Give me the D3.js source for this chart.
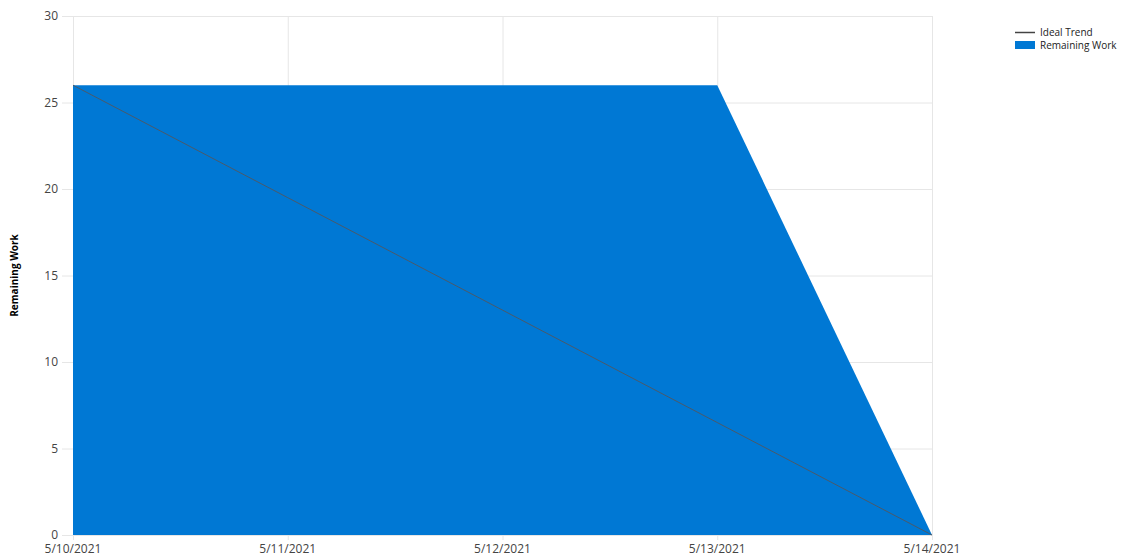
<!DOCTYPE html>
<html>
<head>
<meta charset="utf-8">
<script src="https://cdn.jsdelivr.net/npm/d3@7"></script>
<style>
  body { margin: 0; background: #fff; }
  svg { display: block; font-family: "Open Sans", "Noto Sans", sans-serif; }
</style>
</head>
<body>
<div id="chart"></div>
<script>
// data
const dates = ['5/10/2021', '5/11/2021', '5/12/2021', '5/13/2021', '5/14/2021'];
const remainingWork = [26, 26, 26, 26, 0];
const idealTrend = [26, 19.5, 13, 6.5, 0];
const yTicks = [0, 5, 10, 15, 20, 25, 30];

const width = 1123, height = 559;
const margin = { top: 16, right: 191, bottom: 24, left: 73 };

const svg = d3.select('#chart').append('svg')
  .attr('width', width)
  .attr('height', height);

const x = d3.scalePoint()
  .domain(dates)
  .range([margin.left, width - margin.right]);

const y = d3.scaleLinear()
  .domain([0, 30])
  .range([height - margin.bottom, margin.top]);

// grid
svg.append('g')
  .selectAll('line')
  .data(yTicks)
  .join('line')
  .attr('x1', margin.left - 11)
  .attr('x2', width - margin.right)
  .attr('y1', d => y(d) + 0.5)
  .attr('y2', d => y(d) + 0.5)
  .attr('stroke', '#e6e6e6');

svg.append('g')
  .selectAll('line')
  .data(dates)
  .join('line')
  .attr('x1', d => x(d) + 0.5)
  .attr('x2', d => x(d) + 0.5)
  .attr('y1', margin.top)
  .attr('y2', height - margin.bottom + 5)
  .attr('stroke', '#e6e6e6');

// area
const area = d3.area()
  .x((d, i) => x(dates[i]))
  .y0(y(0))
  .y1(d => y(d));

svg.append('path')
  .datum(remainingWork)
  .attr('d', area)
  .attr('fill', '#0078d4');

// ideal trend
const line = d3.line()
  .x((d, i) => x(dates[i]))
  .y(d => y(d));

svg.append('path')
  .datum(idealTrend)
  .attr('d', line)
  .attr('fill', 'none')
  .attr('stroke', '#4a5a6a')
  .attr('stroke-width', 1);

// axes labels
svg.append('g')
  .selectAll('text')
  .data(yTicks)
  .join('text')
  .attr('x', margin.left - 15)
  .attr('y', d => y(d))
  .attr('dy', '0.35em')
  .attr('text-anchor', 'end')
  .attr('font-size', 12)
  .attr('fill', '#444')
  .text(d => d);

svg.append('g')
  .selectAll('text')
  .data(dates)
  .join('text')
  .attr('x', d => x(d))
  .attr('y', height - margin.bottom + 18)
  .attr('text-anchor', 'middle')
  .attr('font-size', 12)
  .attr('fill', '#444')
  .text(d => d);

svg.append('text')
  .attr('transform', `translate(18, ${(margin.top + height - margin.bottom) / 2}) rotate(-90)`)
  .attr('text-anchor', 'middle')
  .attr('font-size', 10)
  .attr('font-weight', 'bold')
  .attr('fill', '#000')
  .text('Remaining Work');

// legend
const legend = svg.append('g').attr('transform', 'translate(1015, 32)');
legend.append('line')
  .attr('x1', 0).attr('x2', 20)
  .attr('y1', 0.5).attr('y2', 0.5)
  .attr('stroke', '#444')
  .attr('stroke-width', 1.5);
legend.append('text')
  .attr('x', 25).attr('y', 0)
  .attr('dy', '0.35em')
  .attr('font-size', 10)
  .attr('fill', '#222')
  .text('Ideal Trend');
legend.append('rect')
  .attr('x', 0).attr('y', 9)
  .attr('width', 20).attr('height', 8)
  .attr('fill', '#0078d4');
legend.append('text')
  .attr('x', 25).attr('y', 13)
  .attr('dy', '0.35em')
  .attr('font-size', 10)
  .attr('fill', '#222')
  .text('Remaining Work');
</script>
</body>
</html>
